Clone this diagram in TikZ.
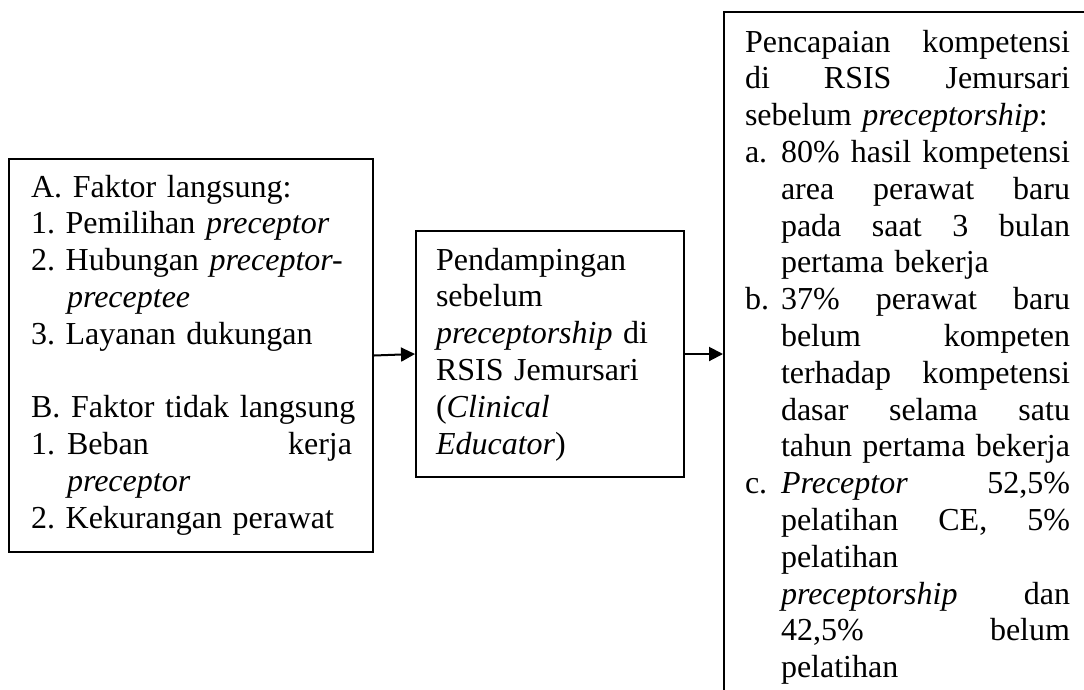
\documentclass[tikz,border=0pt]{standalone}
\usepackage{fontspec}
\setmainfont{Liberation Serif}
\usetikzlibrary{arrows.meta}
\newcommand{\jbox}[2]{\makebox[#1][s]{#2}}
\newcommand{\hind}{\hspace*{36pt}}
\newcommand{\lbl}[1]{\makebox[36pt][l]{#1}}
\frenchspacing
\hyphenpenalty=10000
\exhyphenpenalty=10000
\begin{document}
\begin{tikzpicture}[x=1pt,y=-1pt,
  boxnode/.style={draw=black, line width=2pt, rectangle, inner sep=0pt, fill=none},
  textnode/.style={anchor=north west, inner sep=0pt, outer sep=0pt, align=left,
    text width=360pt, font=\fontsize{32}{36.8}\selectfont},
  arr/.style={line width=2pt, -{Triangle[length=14pt,width=14pt]}}]
\useasboundingbox (0,0) rectangle (1084,689);
\clip (0,0) rectangle (1084,689);
\fill[white] (0,0) rectangle (1084,689);
% boxes
\node[boxnode, minimum width=364pt, minimum height=393pt] (L) at (191,355.5) {};
\node[boxnode, minimum width=268pt, minimum height=246pt] (M) at (550,354) {};
\node[boxnode, minimum width=371pt, minimum height=684pt] (R) at (909.5,354) {};
% texts
\node[textnode] (Ltext) at (31,171.3) {%
\strut A. Faktor langsung:\\
1. Pemilihan \textit{preceptor}\\
2. Hubungan \textit{preceptor-}\\
\hind\textit{preceptee}\\
3. Layanan dukungan\\
\mbox{}\\
B. Faktor tidak langsung\\
\jbox{321pt}{\lbl{1.}Beban\hfill kerja}\\
\hind\textit{preceptor}\\
2. Kekurangan perawat};
\node[textnode] (Mtext) at (436,244.3) {%
\strut Pendampingan\\
sebelum\\
\textit{preceptorship} di\\
RSIS Jemursari\\
(\textit{Clinical}\\
\textit{Educator})};
\node[textnode] (Rtext) at (745,26.3) {%
\strut\jbox{325pt}{Pencapaian\hfill kompetensi}\\
\jbox{325pt}{di\hfill RSIS\hfill Jemursari}\\
sebelum \textit{preceptorship}:\\
\lbl{a.}\jbox{289pt}{80\%\hfill hasil\hfill kompetensi}\\
\hind\jbox{289pt}{area\hfill perawat\hfill baru}\\
\hind\jbox{289pt}{pada\hfill saat\hfill 3\hfill bulan}\\
\hind pertama bekerja\\
\lbl{b.}\jbox{289pt}{37\%\hfill perawat\hfill baru}\\
\hind\jbox{289pt}{belum\hfill kompeten}\\
\hind\jbox{289pt}{terhadap\hfill kompetensi}\\
\hind\jbox{289pt}{dasar\hfill selama\hfill satu}\\
\hind\jbox{289pt}{tahun\hfill pertama\hfill bekerja}\\
\lbl{c.}\jbox{289pt}{\textit{Preceptor}\hfill 52,5\%}\\
\hind\jbox{289pt}{pelatihan\hfill CE,\hfill 5\%}\\
\hind pelatihan\\
\hind\jbox{289pt}{\textit{preceptorship}\hfill dan}\\
\hind\jbox{289pt}{42,5\%\hfill belum}\\
\hind pelatihan};
% connectors
\draw[arr] (L.east) -- (M.west);
\draw[arr] (M.east) -- (R.west);
\end{tikzpicture}
\end{document}
